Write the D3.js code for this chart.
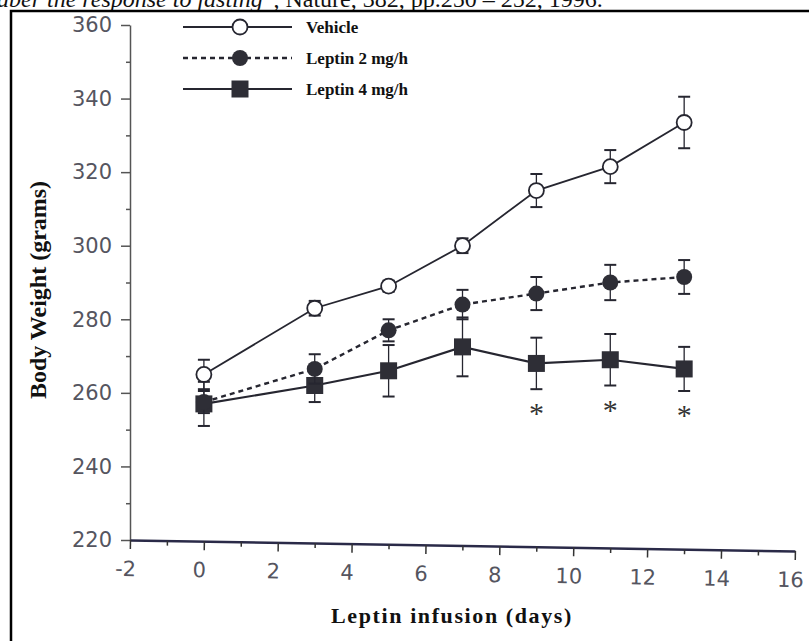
<!DOCTYPE html>
<html>
<head>
<meta charset="utf-8">
<script src="https://cdn.jsdelivr.net/npm/d3@7"></script>
<style>
  body { margin: 0; background: #fff; }
  svg { display: block; }
</style>
</head>
<body>
<div id="chart"></div>
<script>
// body weight vs leptin infusion, three groups

var days = [0, 3, 5, 7, 9, 11, 13];
var vehicleMean = [265, 283, 289, 300, 315, 321.5, 333.5];
var vehicleErr  = [4, 2, 1.5, 2, 4.5, 4.5, 7];
var lep2Mean = [257.5, 266.5, 277, 284, 287, 290, 291.5];
var lep2Err  = [3, 4, 3, 4, 4.5, 4.8, 4.6];
var lep4Mean = [257, 262, 266, 272.5, 268, 269, 266.5];
var lep4Err  = [6, 4.5, 7, 8, 7, 7, 6];
var starDays = [9, 11, 13];
var xTicks = [-2, 0, 2, 4, 6, 8, 10, 12, 14, 16];
var yTicks = [220, 240, 260, 280, 300, 320, 340, 360];
var legendNames = ["Vehicle", "Leptin 2 mg/h", "Leptin 4 mg/h"];

var W = 809, H = 641;
var ink = "#262630";

var svg = d3.select("#chart").append("svg")
    .attr("width", W)
    .attr("height", H);

// cut-off caption line at the very top
var cap = svg.append("text")
    .attr("x", -3)
    .attr("y", 7)
    .attr("font-family", "Liberation Serif, Times New Roman, serif")
    .attr("font-size", 24)
    .attr("fill", "#111");
cap.append("tspan").attr("font-style", "italic").text("aber the response to fasting");
cap.append("tspan").text("\u201D, Nature, 382, pp.250 \u2013 252, 1996.");

// frame
svg.append("path")
    .attr("d", "M11," + H + " L11,11 L" + W + ",11")
    .attr("fill", "none")
    .attr("stroke", "#000")
    .attr("stroke-width", 2.5);

var x = d3.scaleLinear().domain([-2, 16]).range([130, 795]);
var y = d3.scaleLinear().domain([220, 360]).range([540, 25]);

// y axis
var yAxis = d3.axisLeft(y)
    .tickValues(d3.range(220, 361, 10))
    .tickSize(0)
    .tickFormat("");
var gy = svg.append("g").attr("transform", "translate(130,0)").call(yAxis);
gy.select(".domain").attr("stroke", "#555").attr("stroke-width", 1.5);
gy.selectAll(".tick line")
    .attr("x2", function(d){ return d % 20 === 0 ? -9 : -4; })
    .attr("stroke", "#555")
    .attr("stroke-width", 1.5);
gy.selectAll(".ylab").data(yTicks).enter().append("text")
    .attr("class", "ylab")
    .attr("x", -18)
    .attr("y", function(d){ return y(d); })
    .attr("dy", "0.35em")
    .attr("text-anchor", "end")
    .attr("font-family", "DejaVu Sans, sans-serif")
    .attr("font-size", 21)
    .attr("fill", "#55555f")
    .text(function(d){ return d; });

// x axis, slightly skewed like the scan
var xAxis = d3.axisBottom(x)
    .tickValues(d3.range(-2, 16.5, 1))
    .tickSize(0)
    .tickFormat("");
var gx = svg.append("g")
    .attr("transform", "translate(0,540) rotate(0.95,130,0)")
    .call(xAxis);
gx.select(".domain").attr("stroke", "#2a2a48").attr("stroke-width", 2.5);
gx.selectAll(".tick line")
    .attr("y2", function(d){ return d % 2 === 0 ? 9 : 5; })
    .attr("stroke", "#333")
    .attr("stroke-width", 1.5);
gx.selectAll(".xlab").data(xTicks).enter().append("text")
    .attr("class", "xlab")
    .attr("x", function(d){ return x(d) - 4; })
    .attr("y", 36)
    .attr("text-anchor", "middle")
    .attr("font-family", "DejaVu Sans, sans-serif")
    .attr("font-size", 21)
    .attr("fill", "#55555f")
    .text(function(d){ return d; });

// axis titles
svg.append("text")
    .attr("transform", "translate(46,290) rotate(-90)")
    .attr("text-anchor", "middle")
    .attr("font-family", "Liberation Serif, Times New Roman, serif")
    .attr("font-weight", "bold")
    .attr("font-size", 24)
    .attr("fill", "#111")
    .text("Body Weight (grams)");

svg.append("text")
    .attr("x", 452)
    .attr("y", 623)
    .attr("text-anchor", "middle")
    .attr("font-family", "Liberation Serif, Times New Roman, serif")
    .attr("font-weight", "bold")
    .attr("font-size", 22)
    .attr("letter-spacing", 1.6)
    .attr("fill", "#111")
    .text("Leptin infusion (days)");

function rows(mean, err) {
    return days.map(function(d, i){ return {d: d, v: mean[i], e: err[i]}; });
}
var series = [
    {name: legendNames[0], data: rows(vehicleMean, vehicleErr), dash: null, w: 1.8, mark: "open"},
    {name: legendNames[1], data: rows(lep2Mean, lep2Err), dash: "5,4", w: 2.4, mark: "dot"},
    {name: legendNames[2], data: rows(lep4Mean, lep4Err), dash: null, w: 2.2, mark: "square"}
];

var line = d3.line()
    .x(function(p){ return x(p.d); })
    .y(function(p){ return y(p.v); });

function drawMark(g, kind, cx, cy) {
    if (kind === "open") {
        g.append("circle").attr("cx", cx).attr("cy", cy).attr("r", 7.5)
            .attr("fill", "#fff").attr("stroke", ink).attr("stroke-width", 1.8);
    } else if (kind === "dot") {
        g.append("circle").attr("cx", cx).attr("cy", cy).attr("r", 8)
            .attr("fill", "#2e2e36");
    } else {
        g.append("rect").attr("x", cx - 8.5).attr("y", cy - 8.5)
            .attr("width", 17).attr("height", 17)
            .attr("fill", "#2e2e36");
    }
}

// draw series back to front: error bars, line, markers
series.slice().reverse().forEach(function(s) {
    var g = svg.append("g");
    s.data.forEach(function(p) {
        var x0 = x(p.d), y1 = y(p.v + p.e), y2 = y(p.v - p.e);
        g.append("line").attr("x1", x0).attr("x2", x0).attr("y1", y1).attr("y2", y2)
            .attr("stroke", ink).attr("stroke-width", 1.3);
        [y1, y2].forEach(function(yy) {
            g.append("line").attr("x1", x0 - 6).attr("x2", x0 + 6).attr("y1", yy).attr("y2", yy)
                .attr("stroke", ink).attr("stroke-width", 2);
        });
    });
    g.append("path")
        .datum(s.data)
        .attr("d", line)
        .attr("fill", "none")
        .attr("stroke", ink)
        .attr("stroke-width", s.w)
        .attr("stroke-dasharray", s.dash);
    s.data.forEach(function(p){ drawMark(g, s.mark, x(p.d), y(p.v)); });
});

// significance stars under the 4 mg/h group
var lep4 = series[2].data;
starDays.forEach(function(d) {
    var p = lep4.filter(function(q){ return q.d === d; })[0];
    svg.append("text")
        .attr("x", x(d))
        .attr("y", y(p.v - p.e) + 34)
        .attr("text-anchor", "middle")
        .attr("font-family", "Liberation Serif, serif")
        .attr("font-size", 30)
        .attr("fill", "#333")
        .text("*");
});

// legend
var leg = svg.append("g");
series.forEach(function(s, i) {
    var ly = 27 + i * 31;
    leg.append("line")
        .attr("x1", 183).attr("x2", 292).attr("y1", ly).attr("y2", ly)
        .attr("stroke", ink)
        .attr("stroke-width", s.w)
        .attr("stroke-dasharray", s.dash);
    drawMark(leg, s.mark, 240, ly);
    leg.append("text")
        .attr("x", 306)
        .attr("y", ly)
        .attr("dy", "0.35em")
        .attr("font-family", "Liberation Serif, Times New Roman, serif")
        .attr("font-weight", "bold")
        .attr("font-size", 17)
        .attr("fill", "#111")
        .text(s.name);
});
</script>
</body>
</html>
